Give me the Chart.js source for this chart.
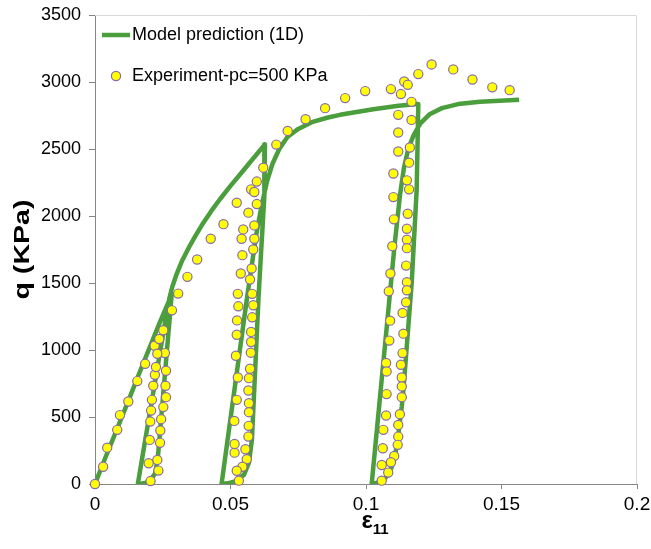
<!DOCTYPE html>
<html>
<head>
<meta charset="utf-8">
<script src="https://cdn.jsdelivr.net/npm/chart.js@4.4.1/dist/chart.umd.min.js"></script>
<style>
  html, body { margin: 0; padding: 0; background: #ffffff; }
  #wrap { width: 651px; height: 549px; }
</style>
</head>
<body>
<div id="wrap"><canvas id="c" width="651" height="549"></canvas></div>
<script>
// ---------- data ----------
const modelLabel = 'Model prediction (1D)';
const expLabel = 'Experiment-pc=500 KPa';
const xTitle = 'ε';
const xTitleSub = '11';
const yTitle = 'q (KPa)';
const xTickLabels = ['0', '0.05', '0.1', '0.15', '0.2'];
const yTickLabels = ['0', '500', '1000', '1500', '2000', '2500', '3000', '3500'];

const modelStrain = [
  0, 0.004, 0.008, 0.012, 0.016, 0.020, 0.024, 0.0283,
  0.0274, 0.0264, 0.0254, 0.0243, 0.0232, 0.0222, 0.0205, 0.0185, 0.0168, 0.0158,
  0.0185, 0.021, 0.0238, 0.0265, 0.0275, 0.0285, 0.0300, 0.0320, 0.0345, 0.0370, 0.0400, 0.0430, 0.0461, 0.0500, 0.0535, 0.0580, 0.0627,
  0.0625, 0.0614, 0.0603, 0.0591, 0.0579, 0.0568, 0.0550, 0.052, 0.049, 0.0467,
  0.0513, 0.0560, 0.0595, 0.0615, 0.0635, 0.0655, 0.0680, 0.0710, 0.0750, 0.0800, 0.0860, 0.0904, 0.1027, 0.1120, 0.1193,
  0.1187, 0.1169, 0.1152, 0.1138, 0.1132, 0.1120, 0.1107, 0.1092, 0.1076, 0.1055, 0.1021,
  0.1050, 0.1080, 0.1105, 0.1125, 0.1140, 0.1156, 0.1175, 0.1200, 0.1235, 0.1280, 0.1340, 0.1420, 0.1565
];
const modelQ = [
  0, 205, 404, 605, 810, 1010, 1210, 1414,
  1200, 962, 724, 462, 200, 80, 28, 8, 2, 0,
  324, 624, 960, 1284, 1390, 1470, 1560, 1660, 1760, 1850, 1950, 2040, 2125, 2225, 2310, 2420, 2535,
  2150, 1770, 1376, 850, 329, 160, 70, 22, 5, 0,
  680, 1376, 1860, 2080, 2260, 2390, 2500, 2590, 2650, 2700, 2735, 2755, 2797, 2822, 2835,
  2199, 1511, 1068, 703, 578, 380, 204, 110, 55, 15, 0,
  612, 1245, 1773, 2150, 2360, 2500, 2600, 2690, 2760, 2805, 2835, 2852, 2867
];

const expStrain = [
  0, 0.003, 0.0045, 0.0082, 0.0092, 0.0123, 0.0156, 0.0185, 0.022, 0.0237, 0.0252,
  0.0258, 0.0262, 0.026, 0.0262, 0.0252, 0.0244, 0.0241, 0.024, 0.023, 0.0234, 0.0205,
  0.0198, 0.0202, 0.0204, 0.0207, 0.021, 0.0215, 0.0221, 0.0225, 0.023,
  0.0284, 0.0307, 0.0341, 0.0377, 0.0427, 0.0474, 0.0523, 0.0576, 0.0597, 0.0621,
  0.0588, 0.0597, 0.0588, 0.0588, 0.0584, 0.0578, 0.0572, 0.058, 0.0584, 0.058, 0.0576, 0.0576, 0.0575,
  0.0572, 0.0568, 0.0566, 0.0568, 0.0568, 0.0567, 0.0566, 0.0555, 0.056, 0.0544, 0.0531,
  0.0523, 0.0515, 0.0515, 0.0514, 0.0523, 0.0527, 0.052, 0.0523, 0.0524, 0.0529, 0.0527, 0.0538,
  0.0544, 0.0541, 0.0547, 0.0566,
  0.0669, 0.0711, 0.0777, 0.0849, 0.0923, 0.0997, 0.1092, 0.1129, 0.1141, 0.1154,
  0.1168, 0.1168, 0.1162, 0.1159, 0.1151, 0.1159, 0.1154, 0.1151, 0.1151, 0.1151, 0.1148, 0.1151,
  0.1151, 0.1148, 0.1135, 0.1138, 0.1135, 0.1129, 0.1132, 0.1132, 0.1132, 0.1125, 0.1119, 0.1119,
  0.1117, 0.1104, 0.1092, 0.1082, 0.1058,
  0.1058, 0.1062, 0.1064, 0.1074, 0.1076, 0.1074, 0.1076, 0.1086, 0.1089, 0.1084, 0.109, 0.1097,
  0.1103, 0.1101, 0.1101, 0.1119, 0.1119, 0.1119,
  0.1193, 0.1242, 0.1322, 0.1393, 0.1466, 0.153
];
const expQ = [
  0, 129, 271, 404, 514, 616, 768, 897, 1032, 1082, 1147,
  977, 845, 733, 648, 574, 484, 399, 307, 180, 100, 22,
  155, 329, 466, 548, 628, 733, 815, 873, 972,
  1296, 1421, 1546, 1675, 1830, 1939, 2099, 2199, 2257, 2361,
  2179, 2089, 1930, 1830, 1750, 1608, 1526, 1419, 1334, 1244, 1135, 1060, 980,
  860, 790, 698, 603, 536, 434, 354, 259, 185, 129, 25,
  99, 234, 299, 471, 628, 795, 957, 1114, 1221, 1326, 1419, 1571,
  1708, 1830, 1900, 2025,
  2533, 2635, 2722, 2805, 2880, 2932, 2947, 2910, 3004, 2979,
  2852, 2717, 2511, 2398, 2266, 2199, 2017, 1905, 1823, 1760, 1630, 1506,
  1446, 1356, 1277, 1122, 977, 890, 795, 728, 648, 521, 441, 354,
  292, 209, 162, 85, 25,
  142, 267, 404, 511, 671, 903, 840, 1070, 1219, 1438, 1571, 1775,
  1975, 2141, 2317, 2481, 2623, 2755,
  3059, 3131, 3094, 3019, 2960, 2939
];

// ---------- styles ----------
const GREEN = '#4a9e3c';
const YELLOW = '#ffff00';
const PURPLE = '#8a6aa8';
const FONT = '"Liberation Sans", Arial, sans-serif';

const modelPts = modelStrain.map((x, i) => ({ x: x, y: modelQ[i] }));
const expPts = expStrain.map((x, i) => ({ x: x, y: expQ[i] }));

const frame = {
  id: 'frame',
  beforeDatasetsDraw(chart) {
    const a = chart.chartArea, ctx = chart.ctx;
    ctx.save();
    ctx.strokeStyle = '#d9d9d9';
    ctx.lineWidth = 1;
    ctx.beginPath();
    ctx.moveTo(a.left, a.top + 0.5);
    ctx.lineTo(a.right - 0.5, a.top + 0.5);
    ctx.lineTo(a.right - 0.5, a.bottom);
    ctx.stroke();
    ctx.restore();
  }
};

const titles = {
  id: 'axisTitles',
  afterDraw(chart) {
    const a = chart.chartArea, ctx = chart.ctx;
    ctx.save();
    ctx.fillStyle = '#000';
    // y title, rotated
    ctx.save();
    ctx.translate(23, (a.top + a.bottom) / 2);
    ctx.rotate(-Math.PI / 2);
    ctx.scale(1.3, 1);
    ctx.font = 'bold 22px ' + FONT;
    ctx.textAlign = 'center';
    ctx.textBaseline = 'middle';
    ctx.fillText(yTitle, 0, 0);
    ctx.restore();
    // x title with subscript
    ctx.font = 'bold 24px ' + FONT;
    ctx.textAlign = 'left';
    ctx.textBaseline = 'alphabetic';
    const w1 = ctx.measureText(xTitle).width;
    ctx.font = 'bold 15px ' + FONT;
    const w2 = ctx.measureText(xTitleSub).width;
    const x0 = 375 - (w1 + w2) / 2;
    ctx.font = 'bold 24px ' + FONT;
    ctx.fillText(xTitle, x0, 528);
    ctx.font = 'bold 15px ' + FONT;
    ctx.fillText(xTitleSub, x0 + w1, 534);
    ctx.restore();
  }
};

const legendPlugin = {
  id: 'innerLegend',
  afterDraw(chart) {
    const a = chart.chartArea, ctx = chart.ctx;
    const ds = chart.data.datasets;
    ctx.save();
    ctx.font = '18px ' + FONT;
    ctx.fillStyle = '#000';
    ctx.textBaseline = 'middle';
    // model entry
    const y1 = a.top + 20;
    ctx.strokeStyle = GREEN;
    ctx.lineWidth = 4.5;
    ctx.beginPath();
    ctx.moveTo(a.left + 7, y1);
    ctx.lineTo(a.left + 35, y1);
    ctx.stroke();
    ctx.fillText(ds[1].label, a.left + 37, y1);
    // experiment entry
    const y2 = a.top + 61;
    ctx.beginPath();
    ctx.arc(a.left + 21, y2, 4.6, 0, Math.PI * 2);
    ctx.fillStyle = YELLOW;
    ctx.fill();
    ctx.strokeStyle = PURPLE;
    ctx.lineWidth = 1.2;
    ctx.stroke();
    ctx.fillStyle = '#000';
    ctx.fillText(ds[0].label, a.left + 37, y2);
    ctx.restore();
  }
};

new Chart(document.getElementById('c'), {
  type: 'scatter',
  data: {
    datasets: [
      {
        label: expLabel,
        data: expPts,
        order: 0,
        showLine: false,
        pointRadius: 4.6,
        pointHoverRadius: 4.6,
        pointBackgroundColor: YELLOW,
        pointBorderColor: PURPLE,
        pointBorderWidth: 1.2,
        clip: false
      },
      {
        label: modelLabel,
        data: modelPts,
        order: 1,
        showLine: true,
        borderColor: GREEN,
        borderWidth: 4.5,
        pointRadius: 0,
        tension: 0,
        borderJoinStyle: 'round',
        fill: false
      }
    ]
  },
  options: {
    responsive: false,
    animation: false,
    events: [],
    layout: { padding: { left: 0, top: 15, right: 14, bottom: 0 } },
    plugins: { legend: { display: false }, tooltip: { enabled: false } },
    scales: {
      x: {
        type: 'linear',
        min: 0, max: 0.2,
        afterBuildTicks(s) { s.ticks = xTickLabels.map(t => ({ value: parseFloat(t) })); },
        afterFit(s) { s.height = 65; s.paddingLeft = 0; s.paddingRight = 0; },
        ticks: {
          callback: (v, i) => xTickLabels[i],
          font: { family: FONT, size: 19 },
          color: '#000',
          padding: 4,
          maxRotation: 0
        },
        grid: { drawOnChartArea: false, drawTicks: true, tickLength: 5, color: '#868686' },
        border: { color: '#868686', width: 1 },
        title: { display: false }
      },
      y: {
        type: 'linear',
        min: 0, max: 3500,
        afterBuildTicks(s) { s.ticks = yTickLabels.map(t => ({ value: parseFloat(t) })); },
        afterFit(s) { s.width = 95; s.paddingTop = 0; s.paddingBottom = 0; },
        ticks: {
          callback: (v, i) => yTickLabels[i],
          font: { family: FONT, size: 18 },
          color: '#000',
          padding: 8
        },
        grid: { drawOnChartArea: false, drawTicks: true, tickLength: 6, color: '#868686' },
        border: { color: '#868686', width: 1 },
        title: { display: false }
      }
    }
  },
  plugins: [frame, titles, legendPlugin]
});
</script>
</body>
</html>
